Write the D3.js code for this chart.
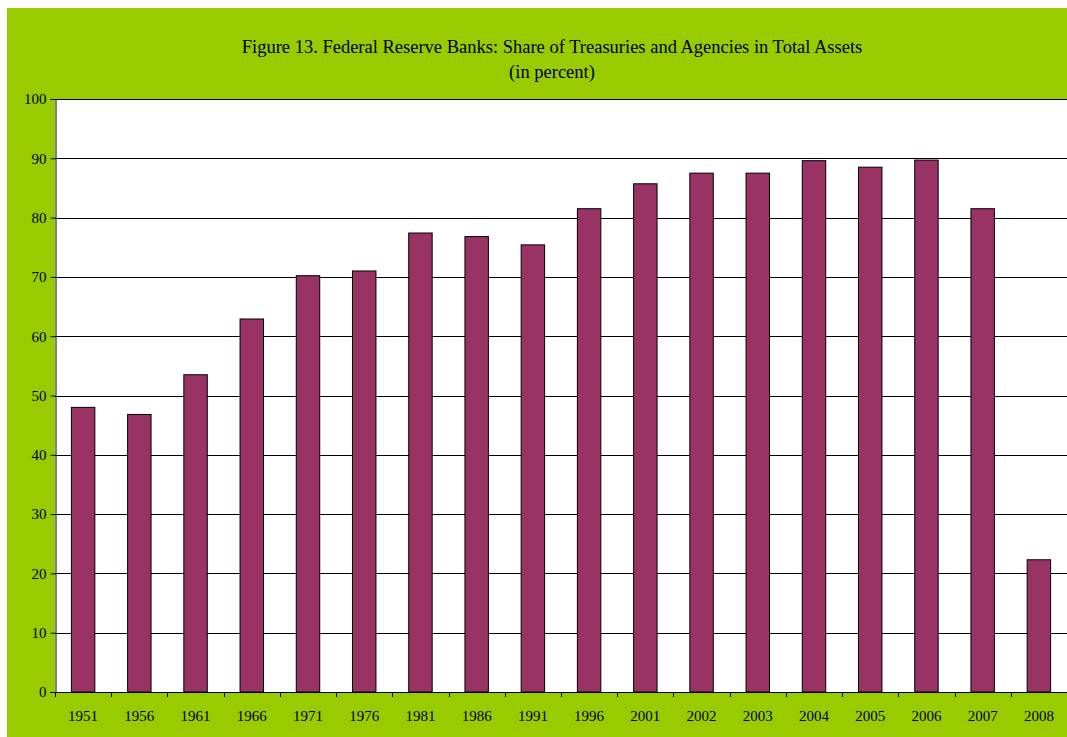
<!DOCTYPE html>
<html><head><meta charset="utf-8">
<script src="https://cdn.jsdelivr.net/npm/d3@7"></script>
<style>body{margin:0;background:#fff;}svg{display:block;}</style>
</head><body>
<script>
const categories = ["1951","1956","1961","1966","1971","1976","1981","1986","1991","1996","2001","2002","2003","2004","2005","2006","2007","2008"];
const shareValues = [48.0,46.8,53.5,62.9,70.2,71.0,77.4,76.8,75.4,81.5,85.7,87.5,87.5,89.6,88.5,89.7,81.5,22.3];
const yTicks = [0,10,20,30,40,50,60,70,80,90,100];
const titleLines = ["Figure 13. Federal Reserve Banks: Share of Treasuries and Agencies in Total Assets","(in percent)"];

const W = 1067, H = 737;
const FONT = "'Liberation Serif', 'Times New Roman', serif";
const svg = d3.select("body").append("svg").attr("width", W).attr("height", H);
svg.append("rect").attr("x",7).attr("y",8).attr("width",W-7).attr("height",H-8).attr("fill","#99CC00");

const m = {left:55, top:99, right:0, bottom:45};
const x = d3.scaleBand().domain(categories).range([m.left, W - m.right]).paddingInner(0.583).paddingOuter(0.2915);
const y = d3.scaleLinear().domain([0,100]).range([692, 99]);

svg.append("rect").attr("x",m.left).attr("y",y(100)).attr("width",W-m.left).attr("height",y(0)-y(100)).attr("fill","#fff");

// gridlines
svg.append("g").selectAll("line").data(yTicks.filter(d=>d>0)).join("line")
  .attr("x1",m.left).attr("x2",W).attr("y1",d=>Math.round(y(d))+0.5).attr("y2",d=>Math.round(y(d))+0.5)
  .attr("stroke","#000").attr("stroke-width",1);

// bars
svg.append("g").selectAll("rect").data(shareValues).join("rect")
  .attr("x",(d,i)=>x(categories[i]))
  .attr("y",d=>y(d))
  .attr("width",x.bandwidth())
  .attr("height",d=>y(0)-y(d))
  .attr("fill","#993366").attr("stroke","#000").attr("stroke-width",1);

// y axis
const yAxis = d3.axisLeft(y).tickValues(yTicks).tickSize(5).tickPadding(4).tickFormat(d3.format("d"));
const gy = svg.append("g").attr("transform",`translate(${m.left+0.5},0)`).call(yAxis);
gy.selectAll("text").attr("font-family",FONT).attr("font-size",15).attr("fill","#000");
gy.select(".domain").attr("stroke","#000");
gy.selectAll(".tick line").attr("stroke","#000");

// x axis baseline
svg.append("line").attr("x1",m.left).attr("x2",W).attr("y1",Math.round(y(0))+0.5).attr("y2",Math.round(y(0))+0.5).attr("stroke","#000");
// x ticks between categories
const step = x.step();
const bounds = d3.range(categories.length+1).map(i => m.left + i*step);
svg.append("g").selectAll("line").data(bounds).join("line")
  .attr("x1",d=>Math.round(d)+0.5).attr("x2",d=>Math.round(d)+0.5)
  .attr("y1",y(0)).attr("y2",y(0)+5).attr("stroke","#000");
svg.append("g").selectAll("text").data(categories).join("text")
  .attr("x",d=>x(d)+x.bandwidth()/2).attr("y",y(0)+29)
  .attr("text-anchor","middle")
  .attr("font-family",FONT).attr("font-size",15).attr("fill","#000")
  .text(d=>d);

// title
svg.append("g").selectAll("text").data(titleLines).join("text")
  .attr("x",552).attr("y",(d,i)=>53+i*25)
  .attr("text-anchor","middle")
  .attr("font-family",FONT).attr("font-size",18.5).attr("fill","#000")
  .text(d=>d);
</script>
</body></html>
